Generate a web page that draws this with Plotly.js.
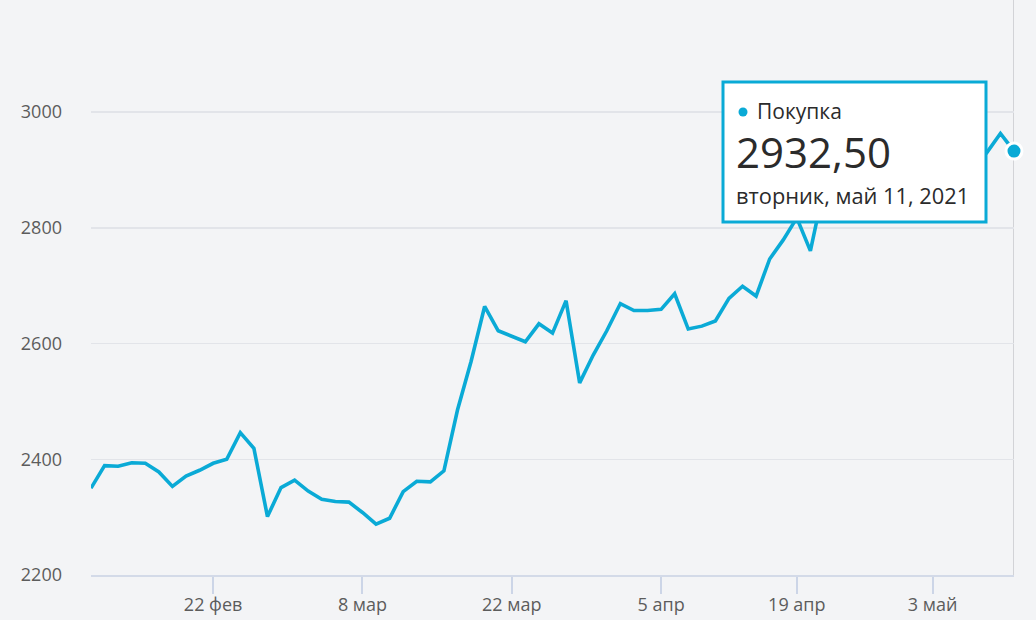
<!DOCTYPE html>
<html>
<head>
<meta charset="utf-8">
<script src="https://cdn.plot.ly/plotly-3.0.1.min.js"></script>
<style>
html,body{margin:0;padding:0;background:#f3f4f6;}
#chart{width:1036px;height:620px;}
</style>
</head>
<body>
<div id="chart"></div>
<script>
// Purchase price series (one value per trading day, last = May 11, 2021)
const seriesName = "Покупка";
const values = [
  2350, 2389, 2388, 2394, 2393, 2378, 2353, 2371, 2381, 2393,
  2400, 2446, 2419, 2301, 2351, 2364, 2345, 2331, 2327, 2326,
  2308, 2288, 2298, 2344, 2362, 2361, 2380, 2485, 2569, 2664,
  2622, 2612, 2603, 2634, 2618, 2674, 2532, 2580, 2622, 2669,
  2657, 2657, 2659, 2686, 2625, 2630, 2639, 2678, 2699, 2682,
  2746, 2779, 2817, 2760, 2870, 2885, 2878, 2896, 2905, 2890,
  2912, 2921, 2908, 2930, 2944, 2905, 2930, 2963, 2932.50
];
// x-axis tick labels and the day (index in series) each one marks
const tickLabels = ["22 фев", "8 мар", "22 мар", "5 апр", "19 апр", "3 май"];
const tickDays   = [9, 20, 31, 42, 52, 62];
const yTicks     = [2200, 2400, 2600, 2800, 3000];
const hoverDateLabel = "вторник, май 11, 2021";

const days = values.map((v, i) => i);
const lastIdx = days.length - 1;
const lastVal = values[lastIdx];
const lastValText = lastVal.toFixed(2).replace(".", ",");

const cyan = "#0aaad6";
const bg = "#f3f4f6";

// pixel helpers for the tooltip box (paper coordinates)
const W = 1036, H = 620, mL = 91, mR = 22, mT = 0, mB = 45;
const pw = W - mL - mR, ph = H - mT - mB;
const px = x => (x - mL) / pw;
const py = y => (H - mB - y) / ph;

const traces = [
  {
    x: days, y: values, type: "scatter", mode: "lines",
    name: seriesName,
    line: {color: cyan, width: 3.6, shape: "linear"},
    hoverinfo: "skip"
  },
  {
    x: [days[lastIdx]], y: [lastVal], type: "scatter", mode: "markers",
    marker: {color: cyan, size: 16, line: {color: "#ffffff", width: 3}},
    cliponaxis: false, hoverinfo: "skip"
  }
];

const layout = {
  width: W, height: H,
  margin: {l: mL, r: mR, t: mT, b: mB, pad: 0},
  paper_bgcolor: bg, plot_bgcolor: bg,
  showlegend: false,
  font: {family: "Open Sans, Noto Sans, sans-serif", color: "#5c5c5c", size: 18},
  xaxis: {
    range: [0, lastIdx],
    tickmode: "array", tickvals: tickDays, ticktext: tickLabels,
    showgrid: false, zeroline: false,
    showline: true, linecolor: "#d3dae8", linewidth: 2,
    ticks: "outside", ticklen: 17, tickwidth: 2, tickcolor: "#ccd5e7",
    ticklabelstandoff: -5,
    tickfont: {size: 18, color: "#5c5c5c"},
    fixedrange: true
  },
  yaxis: {
    range: [2200, 2200 + 575 * 200 / 115.75],
    tickmode: "array", tickvals: yTicks, ticktext: yTicks.map(String),
    showgrid: true, gridcolor: "#e2e4e9", gridwidth: 1.5,
    zeroline: false, showline: false,
    ticks: "", ticklabelstandoff: 28,
    tickfont: {size: 18, color: "#5c5c5c"},
    fixedrange: true
  },
  shapes: [
    {type: "line", xref: "x", yref: "paper", x0: days[lastIdx], x1: days[lastIdx], y0: 0, y1: 1.0,
     line: {color: "#d2d3d7", width: 2}, layer: "below"},
    {type: "rect", xref: "paper", yref: "paper",
     x0: px(723), x1: px(986), y0: py(222), y1: py(82),
     fillcolor: "#ffffff", line: {color: cyan, width: 3}, layer: "above"},
    {type: "circle", xref: "paper", yref: "paper", xsizemode: "pixel", ysizemode: "pixel",
     xanchor: px(743), yanchor: py(112), x0: -4.5, x1: 4.5, y0: -4.5, y1: 4.5,
     fillcolor: cyan, line: {width: 0}, layer: "above"}
  ],
  annotations: [
    {xref: "paper", yref: "paper", x: px(755), y: py(111), xanchor: "left", yanchor: "middle",
     text: seriesName, showarrow: false, font: {size: 21, color: "#2b2b2b", family: "Open Sans, sans-serif"}},
    {xref: "paper", yref: "paper", x: px(734), y: py(151), xanchor: "left", yanchor: "middle",
     text: lastValText, showarrow: false, font: {size: 42, color: "#2b2b2b", family: "Open Sans, sans-serif"}},
    {xref: "paper", yref: "paper", x: px(734), y: py(195), xanchor: "left", yanchor: "middle",
     text: hoverDateLabel, showarrow: false, font: {size: 21.8, color: "#2b2b2b", family: "Open Sans, sans-serif"}}
  ]
};

Plotly.newPlot("chart", traces, layout, {displayModeBar: false, staticPlot: true});
</script>
</body>
</html>
